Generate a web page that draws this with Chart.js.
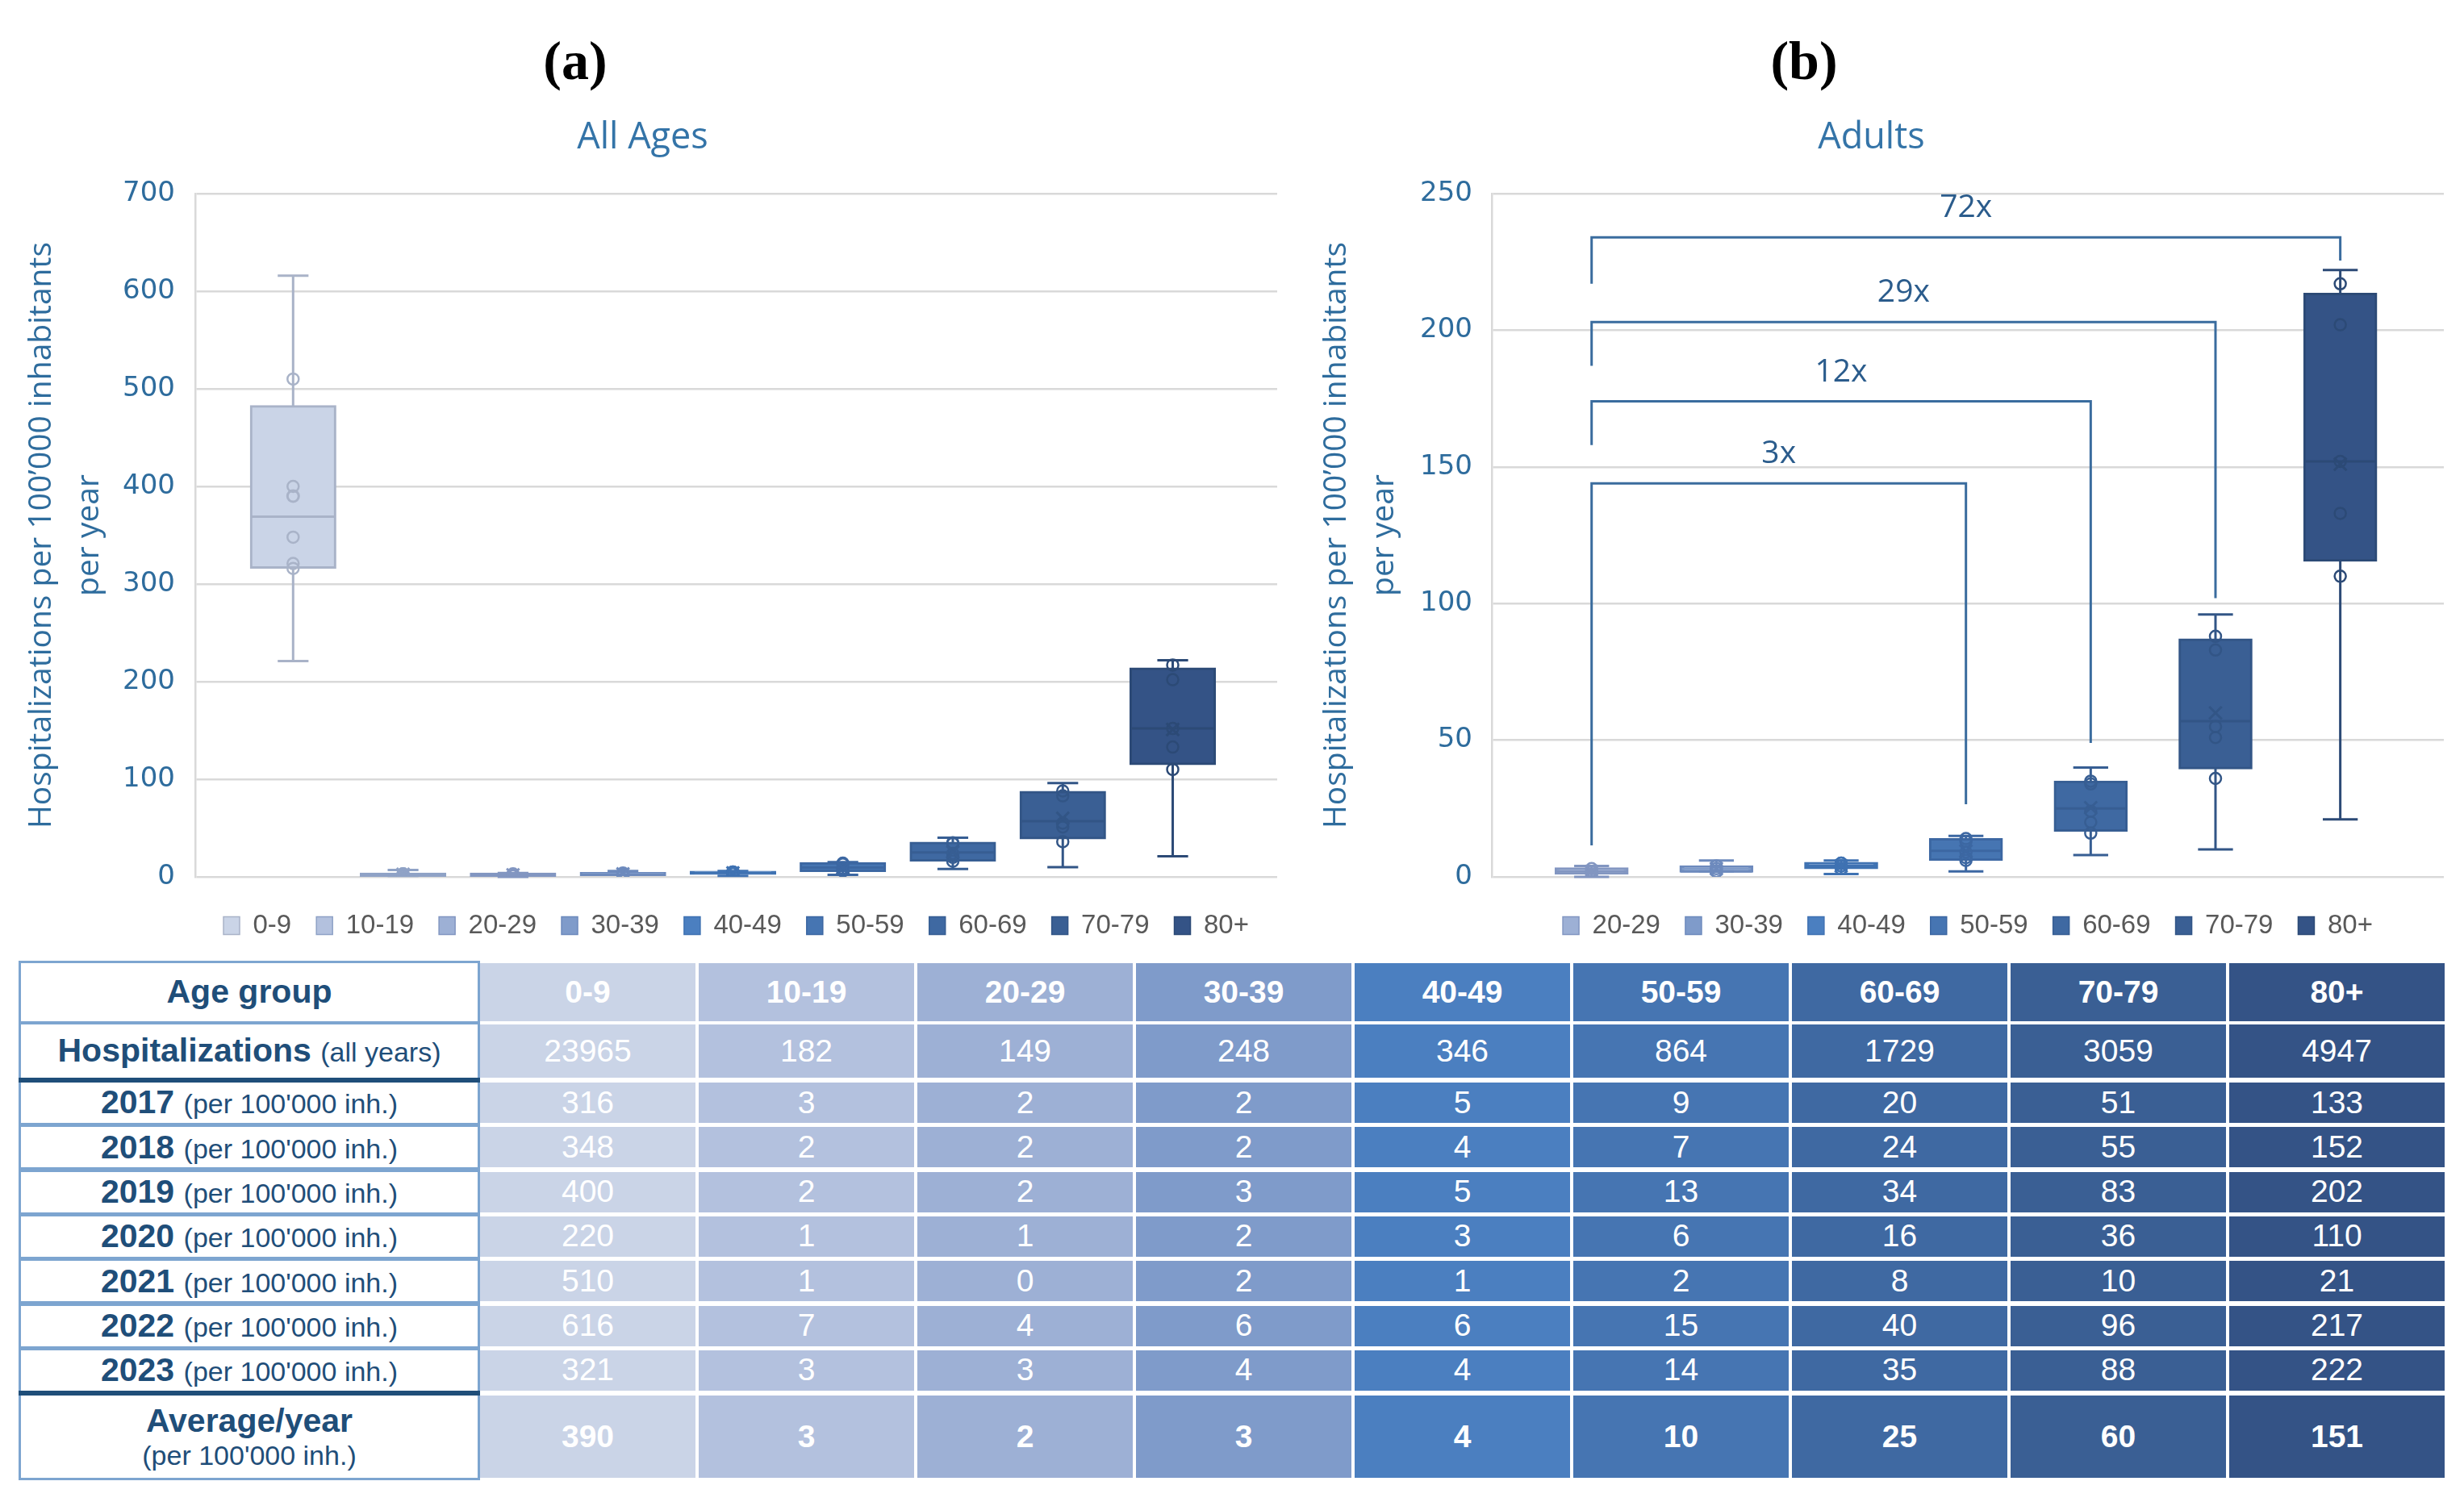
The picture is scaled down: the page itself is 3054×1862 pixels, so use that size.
<!DOCTYPE html>
<html>
<head>
<meta charset="utf-8">
<title>Hospitalizations per 100'000 inhabitants per year</title>
<script src="https://cdn.jsdelivr.net/npm/chart.js@4.4.1/dist/chart.umd.min.js"></script>
<style>
html, body { margin:0; padding:0; background:#ffffff; }
body { width:3054px; height:1862px; position:relative; overflow:hidden; }
canvas { position:absolute; }
.panel { position:absolute; top:75px; transform:translate(-50%,-50%); font-family:'Liberation Serif','DejaVu Serif',serif; font-weight:bold; font-size:68px; line-height:68px; color:#000; }
.cell { position:absolute; display:flex; flex-direction:column; align-items:center; justify-content:center; box-sizing:border-box; font-family:'Liberation Sans',Arial,sans-serif; font-size:39px; line-height:1.15; white-space:nowrap; }
.lab { background:#ffffff; color:#1f4e79; font-size:41px; }
.lab .s { font-weight:normal; font-size:34px; }
.num { color:#ffffff; }
.b { font-weight:bold; }
</style>
</head>
<body>
<div class="panel" style="left:713px">(a)</div>
<div class="panel" style="left:2236px">(b)</div>
<canvas id="chartAll" width="1600" height="1080" style="left:0px;top:110px;width:1600px;height:1080px"></canvas>
<canvas id="chartAdults" width="1454" height="1080" style="left:1600px;top:110px;width:1454px;height:1080px"></canvas>
<div id="table"></div>
<script>
// ---------------- DATA ----------------
const ageGroups = ['0-9','10-19','20-29','30-39','40-49','50-59','60-69','70-79','80+'];
const adultGroups = ['20-29','30-39','40-49','50-59','60-69','70-79','80+'];
const yearLabels = ['2017','2018','2019','2020','2021','2022','2023'];

const hospitalizationsAllYears = [23965,182,149,248,346,864,1729,3059,4947];
const rate2017 = [316,3,2,2,5,9,20,51,133];
const rate2018 = [348,2,2,2,4,7,24,55,152];
const rate2019 = [400,2,2,3,5,13,34,83,202];
const rate2020 = [220,1,1,2,3,6,16,36,110];
const rate2021 = [510,1,0,2,1,2,8,10,21];
const rate2022 = [616,7,4,6,6,15,40,96,217];
const rate2023 = [321,3,3,4,4,14,35,88,222];
const averagePerYear = [390,3,2,3,4,10,25,60,151];

// box-plot statistics
const whiskerLow  = [221,1,0,2,1,2,8,10,21];
const quartile1   = [317,1.25,1.25,2,3.25,6.25,17,39.75,115.75];
const medianValue = [369,2,2,2,4,9.5,25,57,152];
const quartile3   = [482,3,3,3.75,5,13.75,34.75,86.75,213.25];
const whiskerHigh = [616,7,4,6,6,15,40,96,222];
const meanValue   = [390,2.7,2,3,4,9.4,25.3,60,151];

// y tick labels
const yTicksAllAges = [0,100,200,300,400,500,600,700];
const yTicksAdults  = [0,50,100,150,200,250];

// comparison brackets (panel b)
const bracketFrom  = ['20-29','20-29','20-29','20-29'];
const bracketTo    = ['50-59','60-69','70-79','80+'];
const bracketLevel = [144,174,203,234];
const bracketLeftEnd  = [11.5,158,187,217];
const bracketRightEnd = [26.6,49,102,225.5];
const bracketLabels = ['3x','12x','29x','72x'];

// ---------------- STYLE ----------------
const fillColors   = ['#cad4e7','#b3c1de','#9db0d5','#7f9bca','#4b7fc0','#4675b2','#3f69a2','#3a5f94','#345386'];
const borderColors = ['#a9b3c8','#8fa2c6','#8296c1','#6d8abd','#3f72b2','#3c67a2','#375e93','#325586','#2c4a76'];
const meanMarker   = ['circle','crossRot','crossRot','crossRot','crossRot','crossRot','crossRot','crossRot','crossRot'];
const axisBlue = '#2e6c9d';
const yearlyRates = [rate2017, rate2018, rate2019, rate2020, rate2021, rate2022, rate2023];

function gIndex(name){ return ageGroups.indexOf(name); }

function makeBoxPlugin(gis){
  return {
    id:'boxPlotParts',
    beforeDatasetsDraw(chart){
      const {ctx} = chart; const x = chart.scales.x, y = chart.scales.y;
      ctx.save(); ctx.lineWidth = 3;
      gis.forEach((gi,i)=>{
        const cx = x.getPixelForValue(i);
        const cap = Math.abs(x.getPixelForValue(i + 0.14) - cx);
        const yLo = y.getPixelForValue(whiskerLow[gi]);
        const yHi = y.getPixelForValue(whiskerHigh[gi]);
        ctx.strokeStyle = borderColors[gi];
        ctx.beginPath();
        ctx.moveTo(cx, yLo); ctx.lineTo(cx, yHi);
        ctx.moveTo(cx-cap, yLo); ctx.lineTo(cx+cap, yLo);
        ctx.moveTo(cx-cap, yHi); ctx.lineTo(cx+cap, yHi);
        ctx.stroke();
      });
      ctx.restore();
    },
    afterDatasetDraw(chart, args){
      if (args.index !== 0) return;
      const {ctx} = chart; const y = chart.scales.y;
      const bars = chart.getDatasetMeta(0).data;
      ctx.save(); ctx.lineWidth = 3;
      gis.forEach((gi,i)=>{
        const b = bars[i]; const ym = y.getPixelForValue(medianValue[gi]);
        ctx.strokeStyle = borderColors[gi];
        ctx.beginPath(); ctx.moveTo(b.x - b.width/2, ym); ctx.lineTo(b.x + b.width/2, ym); ctx.stroke();
      });
      ctx.restore();
    }
  };
}

const bracketPlugin = {
  id:'brackets',
  afterDatasetsDraw(chart){
    const {ctx} = chart; const x = chart.scales.x, y = chart.scales.y;
    ctx.save();
    ctx.strokeStyle = '#3a6c9e'; ctx.lineWidth = 3;
    ctx.fillStyle = '#2b5c8c'; ctx.font = "39px 'Open Sans'"; ctx.textAlign = 'center'; ctx.textBaseline = 'middle';
    bracketLabels.forEach((lab,k)=>{
      const xl = x.getPixelForValue(adultGroups.indexOf(bracketFrom[k]));
      const xr = x.getPixelForValue(adultGroups.indexOf(bracketTo[k]));
      const yt = y.getPixelForValue(bracketLevel[k]);
      ctx.beginPath();
      ctx.moveTo(xl, y.getPixelForValue(bracketLeftEnd[k]));
      ctx.lineTo(xl, yt); ctx.lineTo(xr, yt);
      ctx.lineTo(xr, y.getPixelForValue(bracketRightEnd[k]));
      ctx.stroke();
      ctx.fillText(lab, (xl+xr)/2, yt - 36);
    });
    ctx.restore();
  }
};

function buildChart(id, groups, ticks, cfg, extraPlugins){
  const gis = groups.map(gIndex);
  const boxData = gis.map((gi,i)=>({x:i, y:[quartile1[gi], quartile3[gi]]}));
  const pointData = [], pointColors = [];
  gis.forEach((gi,i)=>{
    const vals = yearlyRates.map(r=>r[gi]).sort((a,b)=>a-b).slice(1,-1);
    vals.forEach(v=>{ pointData.push({x:i, y:v}); pointColors.push(borderColors[gi]); });
  });
  const meanData = gis.map((gi,i)=>({x:i, y:meanValue[gi]}));
  return new Chart(document.getElementById(id), {
    type:'bar',
    data:{ datasets:[
      { type:'bar', order:3, data:boxData,
        backgroundColor: gis.map(gi=>fillColors[gi]), borderColor: gis.map(gi=>borderColors[gi]),
        borderWidth:3, borderSkipped:false, inflateAmount:1.5, barPercentage:0.91, categoryPercentage:1 },
      { type:'scatter', order:2, data:pointData, pointStyle:'circle', pointRadius:7, pointBorderWidth:2.5,
        pointBorderColor:pointColors, pointBackgroundColor:'rgba(0,0,0,0)' },
      { type:'scatter', order:1, data:meanData, pointStyle: gis.map(gi=>meanMarker[gi]), pointRadius: gis.map(gi=> gi===0 ? 7 : 11),
        pointBorderWidth:3, pointBorderColor: gis.map(gi=>borderColors[gi]), pointBackgroundColor:'rgba(0,0,0,0)' }
    ]},
    options:{
      responsive:false, animation:false, devicePixelRatio:1,
      layout:{ padding:{ left:10, right:cfg.padRight, top:0, bottom:16 } },
      plugins:{
        title:{ display:true, text:cfg.title, color:'#3474a8', font:{family:"'Open Sans'", size:45, weight:'normal', lineHeight:1.2}, padding:{top:34, bottom:42} },
        legend:{ display:true, position:'bottom', fullSize:false,
          labels:{ boxWidth:20, boxHeight:22, padding:31, color:'#595959',
            font:{ family:"'Liberation Sans Narrow','Liberation Sans'", size:33 },
            generateLabels: ()=> gis.map(gi=>({ text:ageGroups[gi], fillStyle:fillColors[gi], strokeStyle:borderColors[gi], lineWidth:1.5, hidden:false, fontColor:'#595959' })) } },
        tooltip:{ enabled:false }
      },
      scales:{
        x:{ type:'linear', offset:false, bounds:'data', min:cfg.xMin, max:cfg.xMax, ticks:{display:false},
            grid:{display:false, drawTicks:false, offset:false}, border:{display:false},
            afterFit:s=>{ s.height = 13; } },
        y:{ type:'linear', min:ticks[0], max:ticks[ticks.length-1],
            ticks:{ stepSize:ticks[1]-ticks[0], color:axisBlue, font:{family:"'DejaVu Sans'", size:34}, padding:cfg.tickPad },
            grid:{ color:'#d9d9d9', lineWidth:2.5, drawTicks:false },
            border:{ display:true, color:'#d9d9d9', width:2.5 },
            title:{ display:true, text:["Hospitalizations per 100’000 inhabitants", 'per year'], color:axisBlue,
                    font:{family:"'Open Sans'", size:39, lineHeight:59/39}, padding:{top:cfg.titlePad, bottom:0} },
            afterFit:s=>{ s.width = cfg.yWidth; } }
      }
    },
    plugins:[makeBoxPlugin(gis)].concat(extraPlugins)
  });
}

buildChart('chartAll', ageGroups, yTicksAllAges,
  {title:'All Ages', padRight:17, xMin:-0.89, xMax:8.95, tickPad:25, titlePad:12, yWidth:232}, []);
buildChart('chartAdults', adultGroups, yTicksAdults,
  {title:'Adults', padRight:25, xMin:-0.8, xMax:6.83, tickPad:24, titlePad:17, yWidth:239}, [bracketPlugin]);

// ---------------- TABLE ----------------
(function(){
  const T = document.getElementById('table');
  function div(style, cls, html){
    const d = document.createElement('div'); d.className = cls || ''; d.innerHTML = html || '';
    Object.assign(d.style, style); T.appendChild(d); return d;
  }
  const rows = [{top:1194,h:72},{top:1270,h:66}];
  yearLabels.forEach((y,k)=>rows.push({top:1342 + k*55.3, h:50}));
  rows.push({top:1730,h:102});
  // label column frame
  div({position:'absolute', left:'23px', top:'1191px', width:'572px', height:'644px', background:'#7da5d0'});
  const labels = [
    '<span class="b">Age group</span>',
    '<span><span class="b">Hospitalizations</span> <span class="s">(all years)</span></span>'
  ];
  yearLabels.forEach(y=>labels.push('<span><span class="b">'+y+'</span> <span class="s">(per 100\'000 inh.)</span></span>'));
  labels.push('<span class="b">Average/year</span><span class="s">(per 100\'000 inh.)</span>');
  rows.forEach((r,k)=>{
    div({left:'26px', top:r.top+'px', width:'566px', height:r.h+'px'}, 'cell lab', labels[k]);
  });
  div({position:'absolute', left:'23px', top:'1336px', width:'572px', height:'6px', background:'#1f4e79'});
  div({position:'absolute', left:'23px', top:'1724px', width:'572px', height:'6px', background:'#1f4e79'});
  // data columns
  ageGroups.forEach((g,j)=>{
    const left = 595 + j*271;
    const values = [g, hospitalizationsAllYears[j]].concat(yearlyRates.map(r=>r[j])).concat([averagePerYear[j]]);
    rows.forEach((r,k)=>{
      const bold = (k===0 || k===rows.length-1) ? ' b' : '';
      div({left:left+'px', top:r.top+'px', width:'267px', height:r.h+'px', background:fillColors[j]}, 'cell num'+bold, String(values[k]));
    });
  });
})();
</script>
</body>
</html>
